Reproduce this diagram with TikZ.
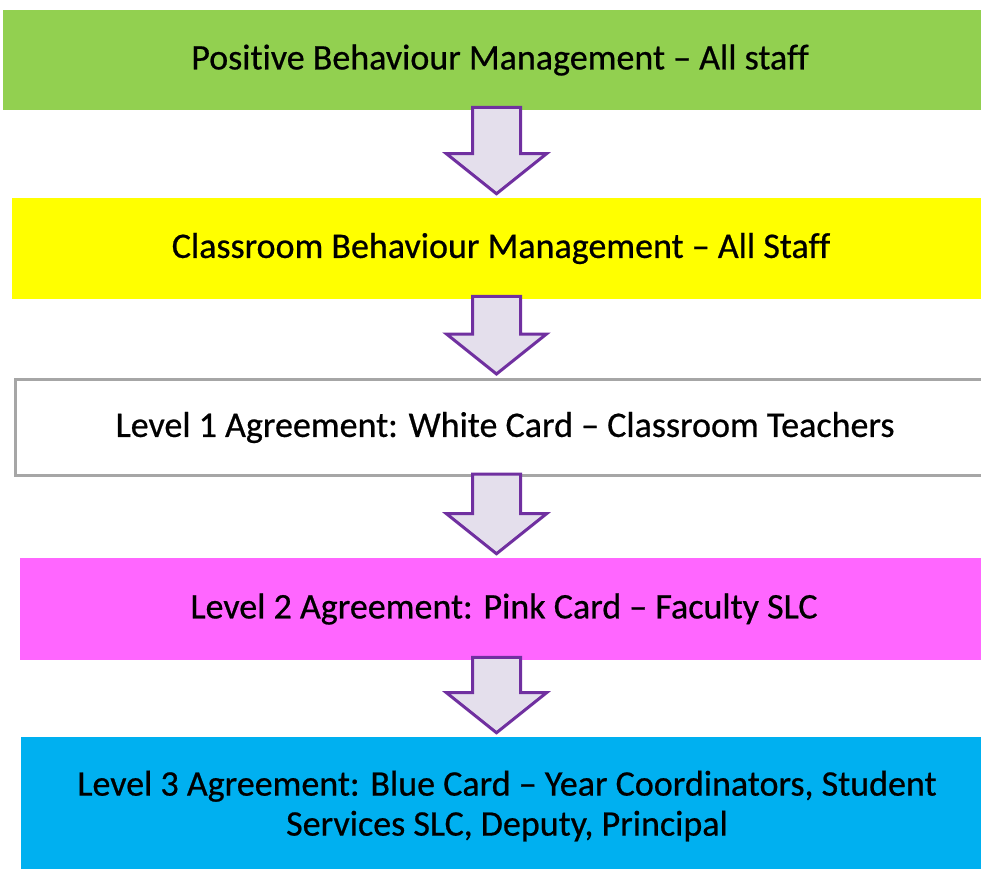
\documentclass[tikz,border=0pt]{standalone}
\usepackage{fontspec}
\setmainfont{Carlito}[Ligatures=NoCommon, FakeBold=0.6]
\usetikzlibrary{calc}

\definecolor{levelgreen}{HTML}{92D050}
\definecolor{levelyellow}{HTML}{FFFF00}
\definecolor{levelgrey}{HTML}{A6A6A6}
\definecolor{levelpink}{HTML}{FF66FF}
\definecolor{levelblue}{HTML}{00B0F0}
\definecolor{arrowfill}{HTML}{E4DFEC}
\definecolor{arrowline}{HTML}{7030A0}

% block arrow from the bottom of one level down to the next
\newcommand{\flowarrow}[2]{%
  \draw[flowarrow] ($(ax |- #1.south)+(-24,-3)$) -- ($(ax |- #2.north)+(-24,-44)$) -- ++(-26,0)
    -- ($(ax |- #2.north)+(0,-4)$) -- ($(ax |- #2.north)+(50,-44)$) -- ++(-26,0)
    -- ($(ax |- #1.south)+(24,-3)$) -- cycle;
}

\begin{document}
\begin{tikzpicture}
  [
  x=0.75pt, y=-0.75pt,
  font=\fontsize{27pt}{30pt}\selectfont,
  level/.style={rectangle, inner sep=0pt, align=center, text=black},
  flowarrow/.style={draw=arrowline, fill=arrowfill, line width=2.25pt, line join=miter}
  ]
\useasboundingbox (0,0) rectangle (981,868);
\clip (0,0) rectangle (981,868);

\coordinate (ax) at (496.5,0);

\node[level, fill=levelgreen, minimum width=745.5pt, minimum height=75pt] (pbm) at (500,60)
  {Positive Behaviour Management -- All staff};
\node[level, fill=levelyellow, minimum width=733.5pt, minimum height=75.75pt] (cbm) at (501,248.5)
  {Classroom Behaviour Management -- All Staff};
\node[level, draw=levelgrey, line width=2.25pt, fill=white, minimum width=735pt, minimum height=72pt] (lone) at (505,427.5)
  {Level 1 Agreement: White Card -- Classroom Teachers};
\node[level, fill=levelpink, minimum width=726pt, minimum height=76.5pt] (ltwo) at (504,609)
  {Level 2 Agreement: Pink Card -- Faculty SLC};
\node[level, fill=levelblue, minimum width=729pt, minimum height=103.5pt] (lthree) at (507,806)
  {Level 3 Agreement: Blue Card -- Year Coordinators, Student\\Services SLC, Deputy, Principal};

\flowarrow{pbm}{cbm}
\flowarrow{cbm}{lone}
\flowarrow{lone}{ltwo}
\flowarrow{ltwo}{lthree}

\end{tikzpicture}
\end{document}
